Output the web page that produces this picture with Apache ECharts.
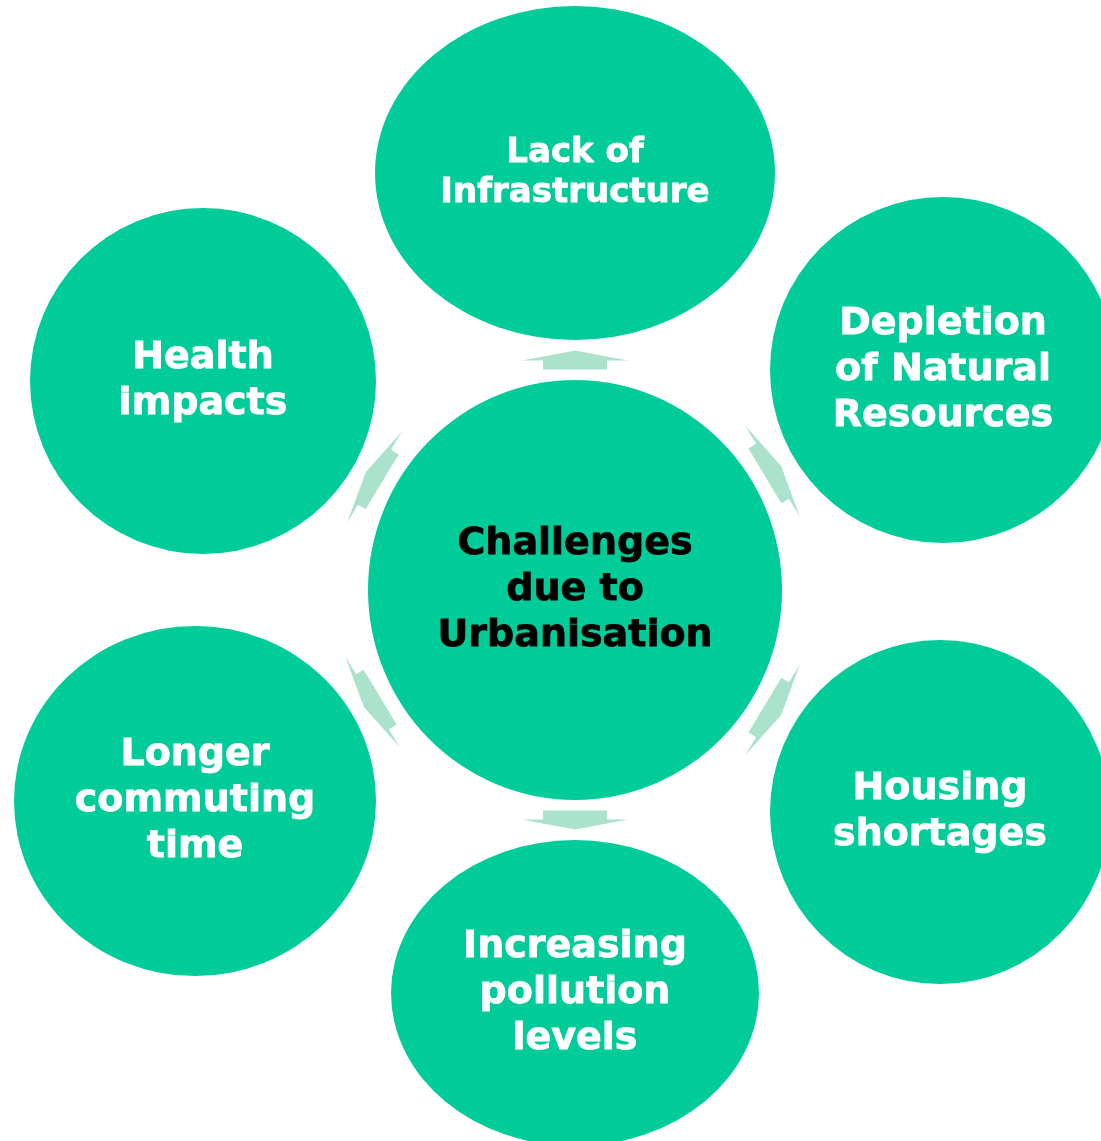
<!DOCTYPE html>
<html>
<head>
<meta charset="utf-8">
<script src="https://cdn.jsdelivr.net/npm/echarts@6/dist/echarts.min.js"></script>
<style>
  html, body { margin: 0; padding: 0; background: #fff; }
  #chart { width: 1101px; height: 1141px; }
</style>
</head>
<body>
<div id="chart"></div>
<script>
// node texts (center node last)
const nodeLabels = [
  "Lack of\nInfrastructure",
  "Depletion\nof Natural\nResources",
  "Housing\nshortages",
  "Increasing\npollution\nlevels",
  "Longer\ncommuting\ntime",
  "Health\nimpacts",
  "Challenges\ndue to\nUrbanisation"
];

// layout, in page pixels (x to the right, y downwards)
const nodeX = [575, 943, 940, 575, 195, 203, 575];
const nodeY = [173, 370, 812, 993, 801, 381, 590];
const nodeW = [400, 346, 340, 368, 362, 346, 414];
const nodeH = [334, 346, 344, 306, 350, 346, 420];

const arrowX = [575, 773, 773, 575, 372, 374];
const arrowY = [360, 471, 710, 820, 702, 477];
const arrowRot = [0, -59, -121, 180, 121, 59];

const GREEN = "#00CC99";
const ARROW = "#AAE2CB";

const chart = echarts.init(document.getElementById("chart"));

const nodeData = nodeLabels.map((t, i) => {
  const isCenter = i === nodeLabels.length - 1;
  const col = isCenter ? "#000" : "#fff";
  return {
    value: [nodeX[i], nodeY[i]],
    symbolSize: [nodeW[i], nodeH[i]],
    label: {
      formatter: t,
      color: col,
      textBorderColor: col,
      textBorderWidth: 0.8,
      fontSize: i === 0 ? 34 : 38,
      lineHeight: i === 0 ? 40 : 46
    }
  };
});

const arrowData = arrowX.map((x, i) => ({
  value: [x, arrowY[i]],
  symbolRotate: arrowRot[i]
}));

chart.setOption({
  animation: false,
  grid: { left: 0, right: 0, top: 0, bottom: 0 },
  xAxis: { type: "value", min: 0, max: 1101, show: false },
  yAxis: { type: "value", min: 0, max: 1141, inverse: true, show: false },
  series: [
    {
      type: "scatter",
      clip: false,
      symbol: "circle",
      itemStyle: { color: GREEN, opacity: 1 },
      label: {
        show: true,
        position: "inside",
        fontFamily: "DejaVu Sans",
        fontWeight: "bold",
        align: "center",
        verticalAlign: "middle"
      },
      emphasis: { disabled: true },
      data: nodeData
    },
    {
      type: "scatter",
      clip: false,
      symbol: "path://M21,19 L21,10 L0,10 L53,0 L106,10 L85,10 L85,19 Z",
      symbolSize: [106, 19],
      itemStyle: { color: ARROW, opacity: 1 },
      emphasis: { disabled: true },
      data: arrowData
    }
  ]
});
</script>
</body>
</html>
